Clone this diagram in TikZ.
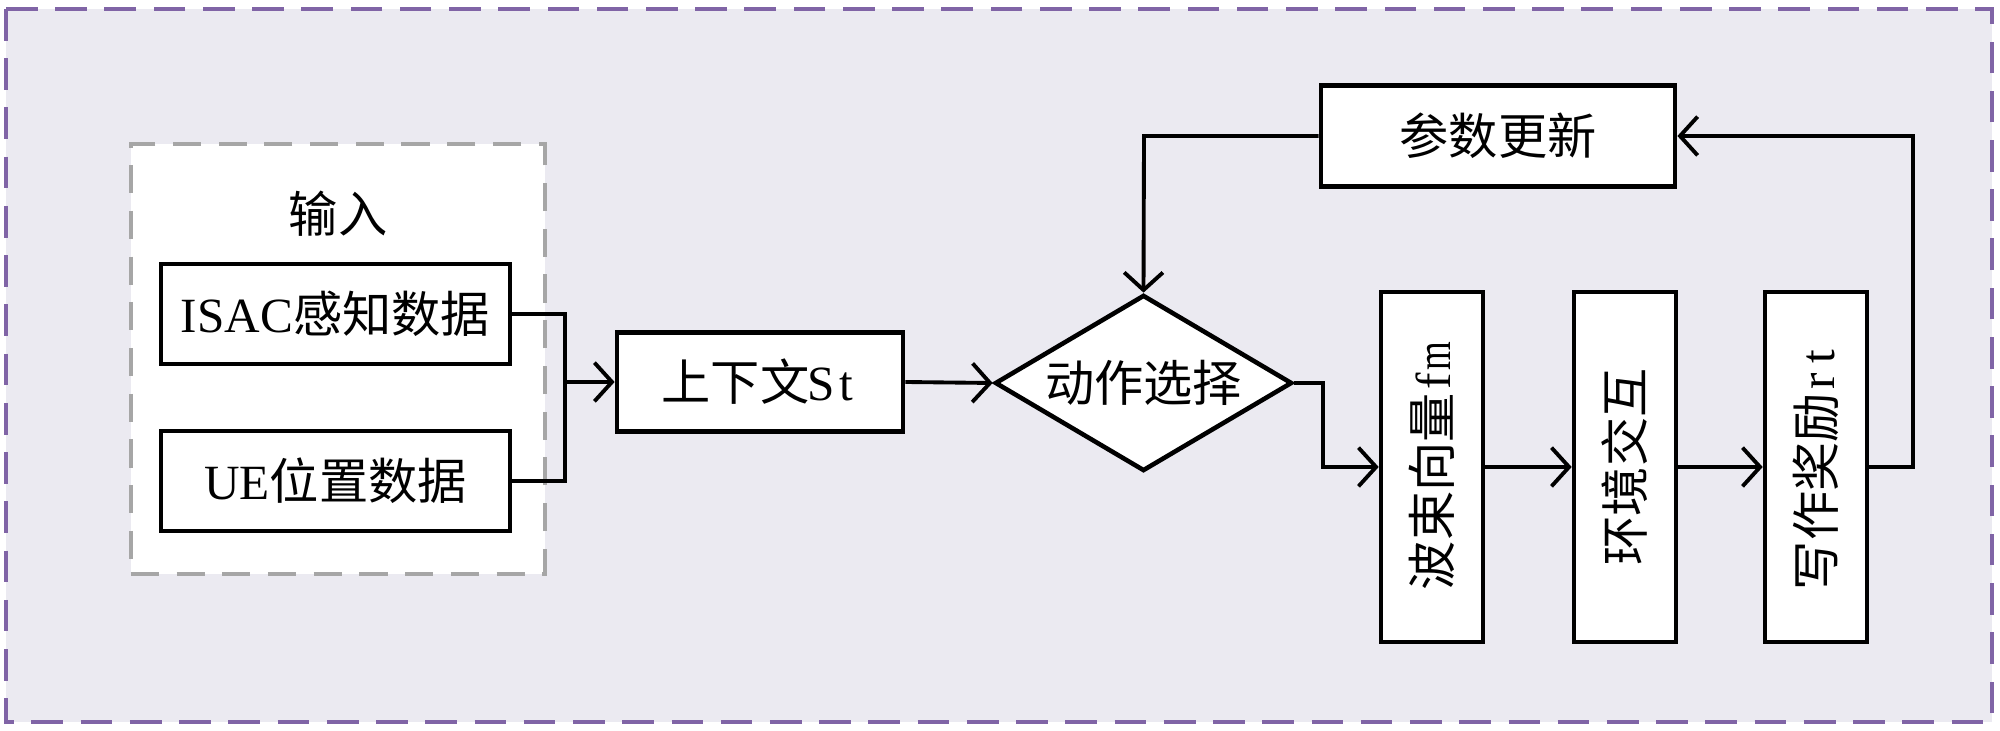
\documentclass[tikz,border=0pt]{standalone}
\usepackage{fontspec}
\setmainfont{Liberation Serif}
\newfontfamily\cjk{Noto Sans CJK SC}
\usetikzlibrary{arrows.meta,shapes.geometric}
\definecolor{bgc}{RGB}{235,234,241}
\definecolor{purp}{RGB}{128,100,166}
\definecolor{gry}{RGB}{166,166,166}
\newcommand\zh[1]{{\cjk #1}}
\newcommand\hw[1]{\makebox[0.5em]{#1}}
\begin{document}
\begin{tikzpicture}[x=0.01cm,y=-0.01cm,
  txt/.style={font=\fontsize{14pt}{16pt}\selectfont},
  box/.style={txt,draw=black,line width=1.3pt,fill=white,inner sep=0pt,rectangle},
  vbox/.style={box,minimum width=1.02cm,minimum height=3.5cm},
  dbox/.style={txt,draw=black,line width=1.3pt,fill=white,inner sep=0pt,diamond,aspect=1.69,minimum width=2.97cm,minimum height=1.76cm},
  conn/.style={line width=1.1pt},
  arr/.style={conn,-{Straight Barb[length=5pt,width=11pt,line width=1.1pt]}}]
\useasboundingbox (0,0) rectangle (2000,731);
% background frame
\path[fill=bgc,draw=purp,line width=1.2pt,dash pattern=on 9pt off 5pt] (6,9) rectangle (1992,722);
% input group
\node[draw=gry,fill=white,line width=1pt,dash pattern=on 8pt off 5pt,minimum width=4.14cm,minimum height=4.3cm,inner sep=0pt] (inp) at (338,359) {};
\node[txt] (inlbl) at (338,214) {\zh{输入}};
\node[box,minimum width=3.49cm,minimum height=1cm] (isac) at (335.5,314) {ISAC\zh{感知数据}};
\node[box,minimum width=3.49cm,minimum height=1cm] (ue) at (335.5,481) {UE\zh{位置数据}};
\node[box,minimum width=2.86cm,minimum height=0.99cm] (ctx) at (760,382) {\zh{上下文}\hw{S}\hw{t}};
\node[dbox] (act) at (1143.5,383) {\zh{动作选择}};
\node[box,minimum width=3.54cm,minimum height=1.01cm] (upd) at (1498,136) {\zh{参数更新}};
\node[vbox] (bv) at (1432,467) {\rotatebox{90}{\zh{波束向量}\hw{f}\hw{\scalebox{0.75}[1]{m}}}};
\node[vbox] (env) at (1625,467) {\rotatebox{90}{\zh{环境交互}}};
\node[vbox] (rw) at (1816,467) {\rotatebox{90}{\zh{写作奖励}\hw{r}\hw{t}}};
\coordinate (j) at (565,382);
\coordinate (a1) at (1323,383);
\coordinate (r1) at (1913,467);
\coordinate (u1) at (1144,136);
% connectors
\draw[conn] (isac.east) -| (j);
\draw[conn] (ue.east) -| (j);
\draw[arr] (j) -- (ctx.west);
\draw[arr] (ctx.east) -- (act.west);
\draw[arr] (act.east) -- (a1) |- (bv.west);
\draw[arr] (bv.east) -- (env.west);
\draw[arr] (env.east) -- (rw.west);
\draw[arr] (rw.east) -- (r1) |- (upd.east);
\draw[arr] (upd.west) -- (u1) -- (act.north);
\end{tikzpicture}
\end{document}
